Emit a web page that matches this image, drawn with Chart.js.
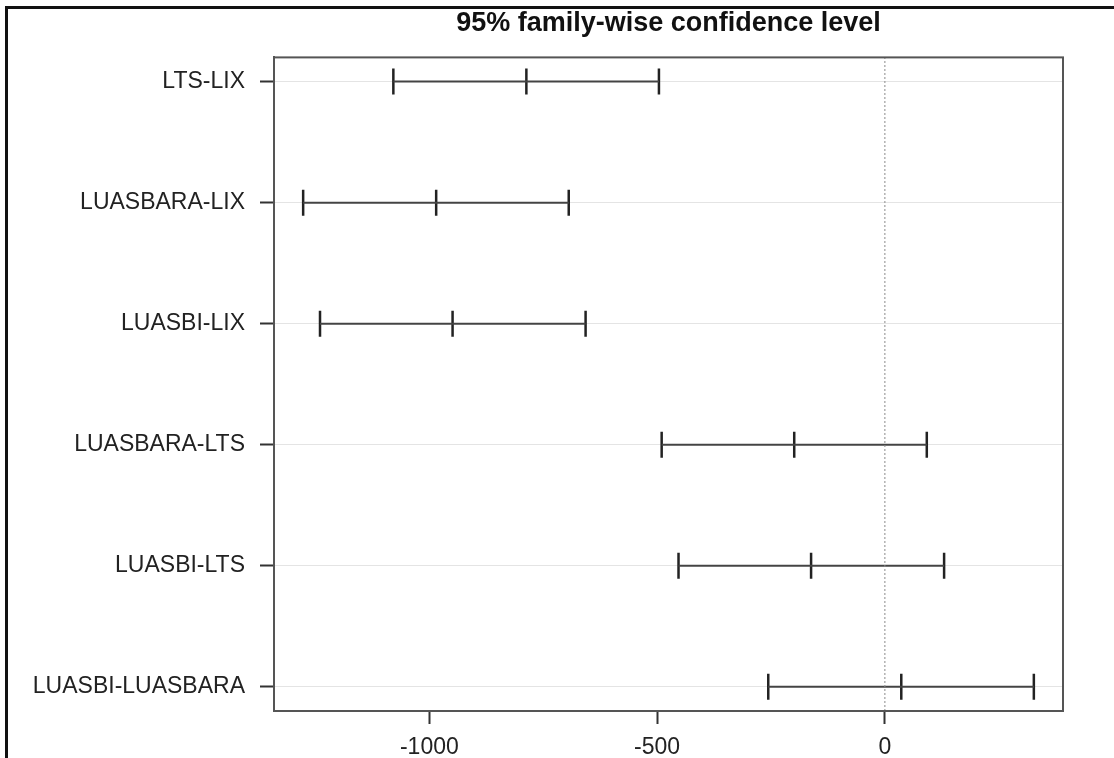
<!DOCTYPE html>
<html lang="en">
<head>
  <meta charset="UTF-8">
  <title>95% family-wise confidence level</title>
  <script src="https://cdn.jsdelivr.net/npm/chart.js"></script>
  <style>
    body { margin: 0; background: #fff; }
    #wrap { position: relative; width: 1114px; height: 758px; }
    #frame {
      position: absolute; left: 5px; top: 6px; right: 0; bottom: 0;
      border-left: 3px solid #111; border-top: 3px solid #111;
      pointer-events: none;
    }
  </style>
</head>
<body>
  <div id="wrap">
    <canvas id="tukeyChart" width="1114" height="758"></canvas>
    <div id="frame"></div>
  </div>

  <script>
    // comparisons, top to bottom
    const comparisons = ['LTS-LIX', 'LUASBARA-LIX', 'LUASBI-LIX', 'LUASBARA-LTS', 'LUASBI-LTS', 'LUASBI-LUASBARA'];
    const lwr  = [-1079, -1277, -1240, -490, -453, -256];
    const diff = [-787, -985, -949, -199, -162, 36];
    const upr  = [-496, -694, -657, 92, 130, 327];
    const xTicks = [-1000, -500, 0];

    const n = comparisons.length;
    const rowY = i => n - i;   // first comparison at the top
    const labelFont = { family: 'Liberation Sans, Arial, sans-serif', size: 23 };

    const datasets = [];

    // dotted zero line
    datasets.push({
      data: [{ x: 0, y: 0.8 }, { x: 0, y: n + 0.2 }],
      showLine: true,
      borderColor: '#8a8a8a',
      borderWidth: 1,
      borderDash: [2, 2],
      pointRadius: 0
    });

    // interval segments
    comparisons.forEach((c, i) => {
      datasets.push({
        label: c,
        data: [{ x: lwr[i], y: rowY(i) }, { x: upr[i], y: rowY(i) }],
        showLine: true,
        borderColor: '#444',
        borderWidth: 2,
        pointRadius: 0
      });
    });

    // "|" markers at lower, estimate, upper
    const marks = [];
    comparisons.forEach((c, i) => {
      marks.push({ x: lwr[i], y: rowY(i) });
      marks.push({ x: diff[i], y: rowY(i) });
      marks.push({ x: upr[i], y: rowY(i) });
    });
    datasets.push({
      data: marks,
      pointStyle: 'line',
      rotation: 90,
      pointRadius: 13,
      borderColor: '#222',
      backgroundColor: '#222',
      borderWidth: 2.5
    });

    const boxPlugin = {
      id: 'box',
      afterDraw(chart) {
        const { ctx, chartArea: a } = chart;
        ctx.save();
        ctx.strokeStyle = '#555';
        ctx.lineWidth = 2;
        ctx.strokeRect(a.left, a.top, a.right - a.left, a.bottom - a.top);
        ctx.restore();
      }
    };

    const ctx = document.getElementById('tukeyChart').getContext('2d');
    new Chart(ctx, {
      type: 'scatter',
      data: { datasets },
      plugins: [boxPlugin],
      options: {
        responsive: false,
        animation: false,
        layout: { padding: { left: 0, right: 51, top: 0, bottom: 0 } },
        plugins: {
          legend: { display: false },
          tooltip: { enabled: false },
          title: {
            display: true,
            fullSize: false,
            text: '95% family-wise confidence level',
            color: '#111',
            font: { family: 'Liberation Sans, Arial, sans-serif', size: 27, weight: 'bold', lineHeight: 1.2 },
            padding: { top: 7, bottom: 18 }
          }
        },
        scales: {
          x: {
            type: 'linear',
            min: -1341,
            max: 391,
            afterBuildTicks: s => { s.ticks = xTicks.map(v => ({ value: v })); },
            afterFit: s => { s.height = 47; },
            grid: { drawOnChartArea: false, tickLength: 13, tickColor: '#333', tickWidth: 2 },
            border: { display: true, color: '#555', width: 2 },
            ticks: {
              color: '#222',
              padding: 10,
              maxRotation: 0,
              font: labelFont,
              callback: v => String(v)
            }
          },
          y: {
            type: 'linear',
            min: 0.8,
            max: n + 0.2,
            afterBuildTicks: s => { s.ticks = comparisons.map((c, i) => ({ value: rowY(i) })); },
            afterFit: s => { s.width = 274; },
            grid: { color: '#e4e4e4', lineWidth: 1, tickLength: 14, tickColor: '#333', tickWidth: 2 },
            border: { display: true, color: '#555', width: 2 },
            ticks: {
              color: '#222',
              padding: 15,
              font: labelFont,
              callback: v => comparisons[n - v]
            }
          }
        }
      }
    });
  </script>
</body>
</html>
